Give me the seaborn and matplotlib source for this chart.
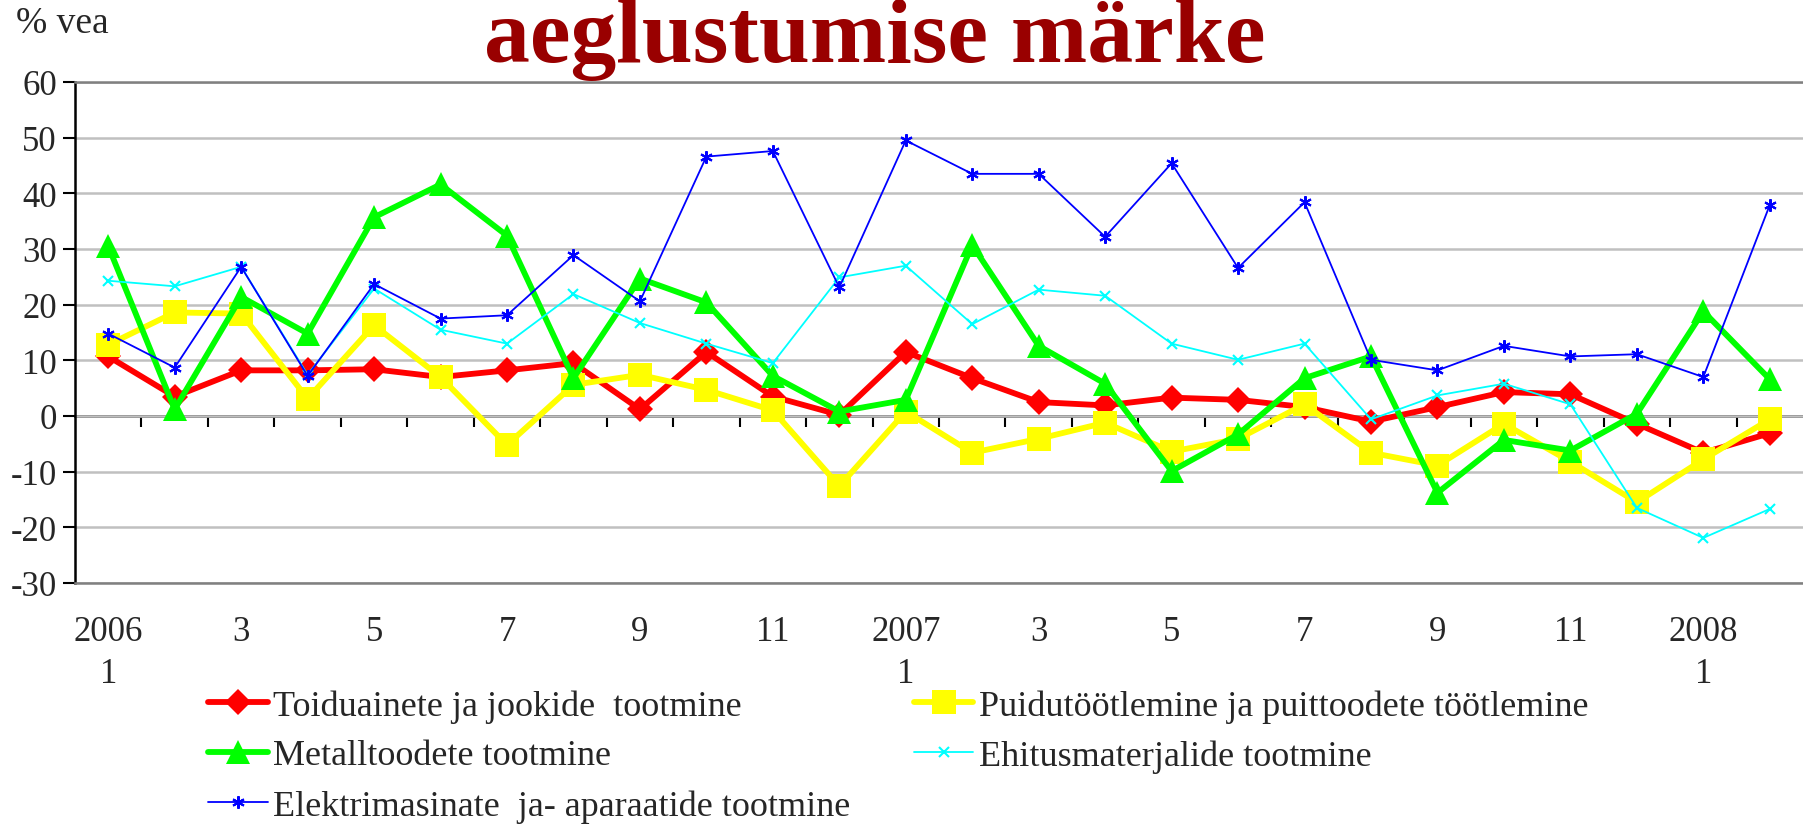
import numpy as np
import pandas as pd
import seaborn as sns
import matplotlib.pyplot as plt

# months 2006-1 .. 2008-2
months = list(range(26))
tick_labels = ['2006\n1', '', '3', '', '5', '', '7', '', '9', '', '11', '',
               '2007\n1', '', '3', '', '5', '', '7', '', '9', '', '11', '',
               '2008\n1', '']

toidu = [10.7, 3.5, 8.2, 8.2, 8.4, 7.0, 8.2, 9.5, 1.2, 11.5, 3.5, 0.2,
         11.5, 6.8, 2.5, 1.9, 3.3, 2.9, 1.6, -1.0, 1.6, 4.3, 3.9, -1.4, -6.6, -3.1]
puidu = [12.8, 18.6, 18.4, 3.1, 16.3, 7.0, -5.2, 5.6, 7.4, 4.7, 1.0, -12.6,
         0.8, -6.6, -4.1, -1.2, -6.4, -4.1, 2.1, -6.6, -8.9, -1.4, -8.2, -15.5, -7.8, -0.6]
metall = [30.5, 1.2, 21.4, 14.8, 35.7, 41.6, 32.4, 6.8, 24.7, 20.4, 7.2, 0.8,
          2.9, 30.7, 12.6, 5.8, -9.9, -3.3, 6.8, 10.7, -13.8, -4.3, -6.2, 0.4, 18.8, 6.6]
ehitus = [24.3, 23.3, 26.8, 7.4, 22.9, 15.5, 13.0, 21.9, 16.7, 13.0, 9.5, 24.9,
          27.0, 16.5, 22.7, 21.6, 13.0, 10.1, 13.0, -0.6, 3.7, 5.8, 2.1, -16.5, -21.9, -16.7]
elektri = [14.8, 8.7, 26.8, 7.2, 23.7, 17.5, 18.1, 28.9, 20.6, 46.6, 47.6, 23.1,
           49.5, 43.5, 43.5, 32.2, 45.4, 26.6, 38.4, 10.1, 8.2, 12.6, 10.7, 11.1, 7.0, 37.9]

names = ['Toiduainete ja jookide  tootmine',
         'Puidutöötlemine ja puittoodete töötlemine',
         'Metalltoodete tootmine',
         'Ehitusmaterjalide tootmine',
         'Elektrimasinate  ja- aparaatide tootmine']

sns.set_style('white')
plt.rcParams['font.family'] = ['Liberation Serif', 'DejaVu Serif']
plt.rcParams['axes.unicode_minus'] = False

fig = plt.figure(figsize=(18.03, 8.28), dpi=100)
ax = fig.add_axes([75/1803, 1 - 584/828, 1 - 75/1803, (584 - 83)/828])

# styles: (color, marker, linewidth, markersize)
styles = [
    ('#ff0000', 'D', 4.2, 13),
    ('#ffff00', 's', 4.2, 17),
    ('#00ff00', '^', 4.2, 17),
    ('#00ffff', 'x', 1.3, 7),
    ('#0000ff', (6, 2, 0), 1.3, 9),
]
series = [toidu, puidu, metall, ehitus, elektri]
for vals, name, (c, m, lw, ms) in zip(series, names, styles):
    df = pd.DataFrame({'x': months, 'y': vals})
    sns.lineplot(data=df, x='x', y='y', ax=ax, color=c, marker=m, linewidth=lw,
                 markersize=ms, markeredgecolor=c,
                 markeredgewidth=1.5 if m in ('x', (6, 2, 0)) else 0,
                 label=name, legend=False)

ax.set_xlim(-0.5, 25.5)
ax.set_ylim(-30, 60)
ax.set_yticks(range(-30, 61, 10))
ax.yaxis.grid(True, color='#c0c0c0', linewidth=1.8)
ax.set_axisbelow(True)
ax.set_xlabel('')
ax.set_ylabel('')

ax.spines['right'].set_visible(False)
for s in ['top', 'bottom']:
    ax.spines[s].set_color('#808080')
    ax.spines[s].set_linewidth(1.8)
ax.spines['left'].set_color('black')
ax.spines['left'].set_linewidth(1.8)

ax.set_xticks(months)
ax.set_xticklabels(tick_labels, fontsize=25, linespacing=1.36)
ax.tick_params(axis='x', length=0, pad=23)
ax.tick_params(axis='y', labelsize=25, length=9, width=1.5, pad=4,
               direction='out', color='black', left=True)

# category axis crossing at zero
zero_frac = (0 - (-30)) / 90
sec = ax.secondary_xaxis(zero_frac)
sec.spines['bottom'].set_color('black')
sec.spines['bottom'].set_linewidth(1.8)
sec.set_xticks(np.arange(0.5, 25, 1))
sec.set_xticklabels([])
sec.tick_params(axis='x', length=8, width=1.5, direction='out', color='black', bottom=True)

fig.text(16/1803, 1 - 33/828, '% vea', fontsize=27, va='baseline', ha='left')
fig.text(0.485, 1 - 62/828, 'aeglustumise märke', fontsize=66, fontweight='bold',
         color='#990000', ha='center', va='baseline')

h, l = ax.get_legend_handles_labels()
order = [0, 2, 4, 1, 3]
fig.legend([h[i] for i in order], [l[i] for i in order], ncol=2, frameon=False,
           loc='upper left', bbox_to_anchor=(208/1803, 1 - 690/828),
           fontsize=26, handlelength=1.65, handletextpad=0.16, columnspacing=1.75,
           labelspacing=0.46, borderpad=0, borderaxespad=0)

fig.savefig('out.png', dpi=100)
